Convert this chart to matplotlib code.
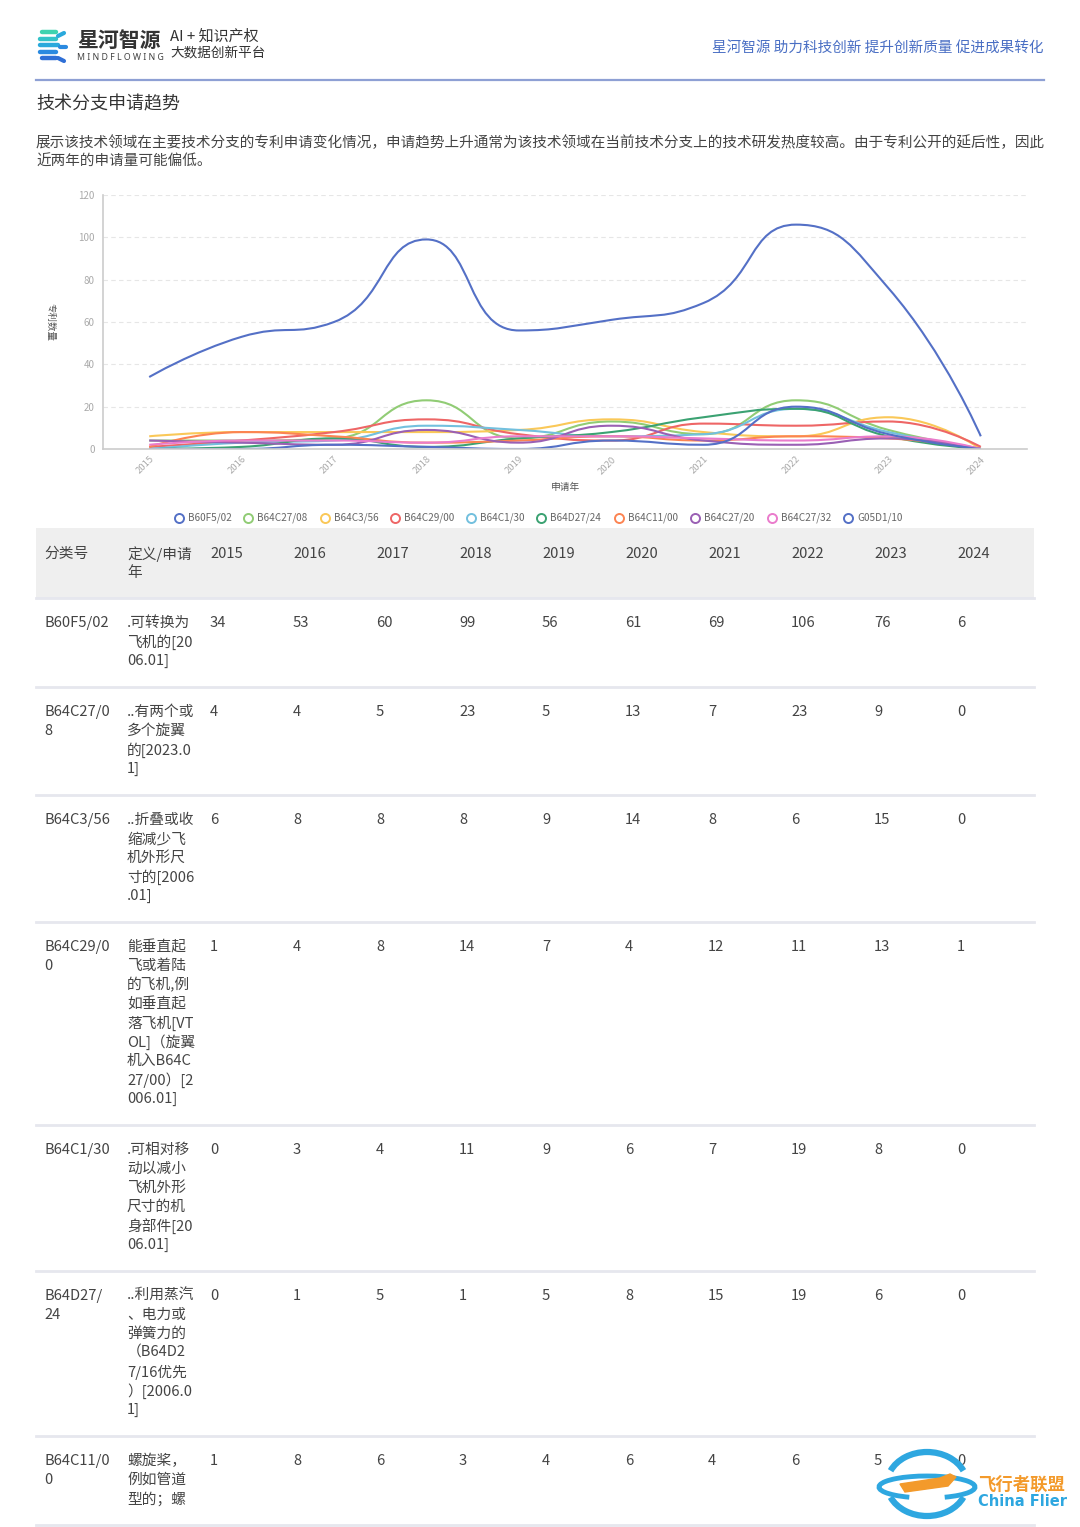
import numpy as np
import matplotlib
matplotlib.use('Agg')
import matplotlib.pyplot as plt
from matplotlib.path import Path
from matplotlib.patches import PathPatch, Rectangle, Arc, Polygon

plt.rcParams['font.family'] = ['Noto Sans CJK SC', 'DejaVu Sans']

# ---- data ----
years = [2015, 2016, 2017, 2018, 2019, 2020, 2021, 2022, 2023, 2024]
codes = ['B60F5/02', 'B64C27/08', 'B64C3/56', 'B64C29/00', 'B64C1/30',
         'B64D27/24', 'B64C11/00', 'B64C27/20', 'B64C27/32', 'G05D1/10']
b60f5_02 = [34, 53, 60, 99, 56, 61, 69, 106, 76, 6]
b64c27_08 = [4, 4, 5, 23, 5, 13, 7, 23, 9, 0]
b64c3_56 = [6, 8, 8, 8, 9, 14, 8, 6, 15, 0]
b64c29_00 = [1, 4, 8, 14, 7, 4, 12, 11, 13, 1]
b64c1_30 = [0, 3, 4, 11, 9, 6, 7, 19, 8, 0]
b64d27_24 = [0, 1, 5, 1, 5, 8, 15, 19, 6, 0]
b64c11_00 = [1, 8, 6, 3, 4, 6, 4, 6, 5, 0]
b64c27_20 = [4, 3, 2, 9, 3, 11, 4, 2, 5, 0]   # estimated from chart
b64c27_32 = [2, 4, 4, 3, 6, 6, 5, 4, 6, 0]    # estimated from chart
g05d1_10 = [0, 0, 2, 1, 0, 4, 2, 20, 7, 0]     # estimated from chart
series = [b60f5_02, b64c27_08, b64c3_56, b64c29_00, b64c1_30,
          b64d27_24, b64c11_00, b64c27_20, b64c27_32, g05d1_10]

# table text (only first 7 rows visible on the page)
code_lines = [['B60F5/02'], ['B64C27/0', '8'], ['B64C3/56'], ['B64C29/0', '0'],
              ['B64C1/30'], ['B64D27/', '24'], ['B64C11/0', '0']]
desc_lines = [['.可转换为', '飞机的[20', '06.01]'],
              ['..有两个或', '多个旋翼', '的[2023.0', '1]'],
              ['..折叠或收', '缩减少飞', '机外形尺', '寸的[2006', '.01]'],
              ['能垂直起', '飞或着陆', '的飞机,例', '如垂直起', '落飞机[VT',
               'OL]（旋翼', '机入B64C', '27/00）[2', '006.01]'],
              ['.可相对移', '动以减小', '飞机外形', '尺寸的机', '身部件[20', '06.01]'],
              ['..利用蒸汽', '、电力或', '弹簧力的', '（B64D2', '7/16优先',
               '）[2006.0', '1]'],
              ['螺旋桨，', '例如管道', '型的；螺']]

palette = ['#5470c6', '#91cc75', '#fac858', '#ee6666', '#73c0de',
           '#3ba272', '#fc8452', '#9a60b4', '#ea7ccc', '#5470c6']

W, H = 1080, 1527
fig = plt.figure(figsize=(W / 100, H / 100), dpi=100)

# page overlay in pixel coordinates
pg = fig.add_axes([0, 0, 1, 1], zorder=0)
pg.set_xlim(0, W)
pg.set_ylim(H, 0)
pg.axis('off')

# ---- header ----
logo_cols = ['#3ed3b0', '#33c3c8', '#2aa9dc', '#2b8ae0', '#2f6fd6']
for k, c in enumerate(logo_cols):
    y = 32 + k * 6.5
    x0 = 40 + (2 if k in (0, 4) else 0)
    pg.plot([x0, x0 + 18 - abs(k - 2) * 2], [y, y], color=c, lw=3.2,
            solid_capstyle='round')
pg.plot([58, 64], [36, 33], color='#2aa9dc', lw=3, solid_capstyle='round')
pg.plot([60, 66], [47, 47], color='#2b8ae0', lw=3, solid_capstyle='round')
pg.plot([58, 64], [58, 61], color='#2f6fd6', lw=3, solid_capstyle='round')
pg.text(77, 40, '星河智源', fontsize=15, fontweight='bold', color='#333333',
        va='center', ha='left')
pg.text(77, 57, 'M I N D F L O W I N G', fontsize=6.3, color='#444444', va='center',
        ha='left', family=['Noto Sans', 'DejaVu Sans'])
pg.text(170, 36, 'AI + 知识产权', fontsize=10.8, color='#333333', va='center')
pg.text(170, 53, '大数据创新平台', fontsize=9.8, color='#333333', va='center')
pg.text(1044, 48, '星河智源 助力科技创新 提升创新质量 促进成果转化', fontsize=10.5,
        color='#4a6fc4', va='center', ha='right')
pg.plot([36, 1044], [80, 80], color='#8ea0d4', lw=1.6)

pg.text(36, 104, '技术分支申请趋势', fontsize=13, color='#333333', va='center')
pg.text(36, 143, '展示该技术领域在主要技术分支的专利申请变化情况，申请趋势上升通常为该技术领域在当前技术分支上的技术研发热度较高。由于专利公开的延后性，因此',
        fontsize=10.5, color='#444444', va='center')
pg.text(36, 162, '近两年的申请量可能偏低。', fontsize=10.5, color='#444444', va='center')


# ---- echarts-like smooth line ----
def smooth_path(xs, ys, sx, sy, smooth=0.5):
    P = np.column_stack([np.asarray(xs, float) * sx, np.asarray(ys, float) * sy])
    n = len(P)
    verts = [P[0]]
    kinds = [Path.MOVETO]
    cp0 = P[0].copy()
    for i in range(1, n):
        prev, cur = P[i - 1], P[i]
        if i == n - 1:
            cp1 = cur.copy()
            ncp0 = cur.copy()
        else:
            nxt = P[i + 1]
            v = nxt - prev
            l0 = np.hypot(*(cur - prev))
            l1 = np.hypot(*(nxt - cur))
            r = l1 / (l0 + l1)
            ncp0 = cur + v * smooth * r
            ncp0 = np.minimum(ncp0, np.maximum(nxt, cur))
            ncp0 = np.maximum(ncp0, np.minimum(nxt, cur))
            v = ncp0 - cur
            cp1 = cur - v * l0 / l1
            cp1 = np.minimum(cp1, np.maximum(prev, cur))
            cp1 = np.maximum(cp1, np.minimum(prev, cur))
            v = cur - cp1
            ncp0 = cur + v * l1 / l0
        verts += [cp0, cp1, cur]
        kinds += [Path.CURVE4] * 3
        cp0 = ncp0
    verts = np.array(verts) / [sx, sy]
    return Path(verts, kinds)


# ---- chart ----
left, right, top, bottom = 103, 1027, 195, 449
ax = fig.add_axes([left / W, 1 - bottom / H, (right - left) / W, (bottom - top) / H],
                  zorder=2)
ax.patch.set_alpha(0)
ax.set_xlim(-0.5, len(years) - 0.5)
ax.set_ylim(0, 120)
sx = (right - left) / len(years)
sy = (bottom - top) / 120.0
xs = np.arange(len(years))
for vals, col in zip(series, palette):
    ax.add_patch(PathPatch(smooth_path(xs, vals, sx, sy), fill=False,
                           edgecolor=col, lw=1.5))
ax.set_yticks(np.arange(0, 121, 20))
ax.yaxis.grid(True, color='#e6e6e6', ls=(0, (4, 3)), lw=0.8)
ax.set_axisbelow(True)
ax.set_xticks(xs)
ax.set_xticklabels([str(y) for y in years], rotation=45, ha='right',
                   rotation_mode='anchor', fontsize=6.8, color='#aaaaaa')
ax.tick_params(axis='y', length=0, labelsize=7, labelcolor='#aaaaaa', pad=6)
ax.tick_params(axis='x', length=0, pad=4)
for s in ('top', 'right'):
    ax.spines[s].set_visible(False)
ax.spines['left'].set_color('#cccccc')
ax.spines['bottom'].set_color('#cccccc')
ax.spines['left'].set_linewidth(1.2)
ax.spines['bottom'].set_linewidth(1.2)
pg.text(50, 322, '专利数量', fontsize=6.8, color='#555555', rotation=-90,
        ha='center', va='center')
pg.text(565, 487, '申请年', fontsize=7, color='#555555', ha='center', va='center')

# legend
leg_x = [179, 248, 325, 395, 471, 541, 619, 695, 772, 848]
for x, code, col in zip(leg_x, codes, palette):
    pg.plot([x], [518], marker='o', ms=6.5, mfc='white', mec=col, mew=1.4)
    pg.text(x + 9, 518, code, fontsize=7.2, color='#666666', va='center', ha='left')

# ---- table ----
fs = 10.6
col_x = [44, 127] + [210 + 83 * i for i in range(len(years))]
pg.add_patch(Rectangle((36, 528), 998, 70, color='#efefef', lw=0, zorder=0))
head = ['分类号', '定义/申请'] + [str(y) for y in years]
for x, t in zip(col_x, head):
    pg.text(x, 554, t, fontsize=fs, color='#444444', va='center')
pg.text(127, 573, '年', fontsize=fs, color='#444444', va='center')

y0 = 598
pg.plot([36, 1034], [y0, y0], color='#e6e7ee', lw=2)
for r in range(len(code_lines)):
    n = max(len(code_lines[r]), len(desc_lines[r]))
    ty = y0 + 25
    for j, t in enumerate(code_lines[r]):
        pg.text(col_x[0], ty + 19 * j, t, fontsize=fs, color='#444444', va='center')
    for j, t in enumerate(desc_lines[r]):
        pg.text(col_x[1], ty + 19 * j, t, fontsize=fs, color='#444444', va='center')
    for c in range(len(years)):
        pg.text(col_x[2 + c], ty, str(series[r][c]), fontsize=fs, color='#444444',
                va='center')
    y0 = y0 + n * 19 + 32
    if y0 < H:
        pg.plot([36, 1034], [y0, y0], color='#e6e7ee', lw=2)

# ---- watermark ----
pg.add_patch(Arc((927, 1484), 80, 64, theta1=200, theta2=340, color='#2ea7e0',
                 lw=4.5, zorder=5))
pg.add_patch(Arc((927, 1484), 80, 64, theta1=20, theta2=160, color='#2ea7e0',
                 lw=4.5, zorder=5))
pg.add_patch(Arc((927, 1487), 96, 22, theta1=150, theta2=390, color='#2ea7e0',
                 lw=3.5, zorder=5))
pg.add_patch(Polygon([[900, 1484], [940, 1478], [950, 1474], [956, 1477],
                      [948, 1486], [905, 1492]], closed=True, color='#f39a2b',
                     zorder=6))
pg.text(978, 1485, '飞行者联盟', fontsize=12.5, fontweight='bold', color='#f39a2b',
        va='center', zorder=6)
pg.text(978, 1501, 'China Flier', fontsize=10.5, fontweight='bold', color='#2ea7e0',
        va='center', zorder=6, family=['DejaVu Sans'])

fig.savefig('out.png', dpi=100)
